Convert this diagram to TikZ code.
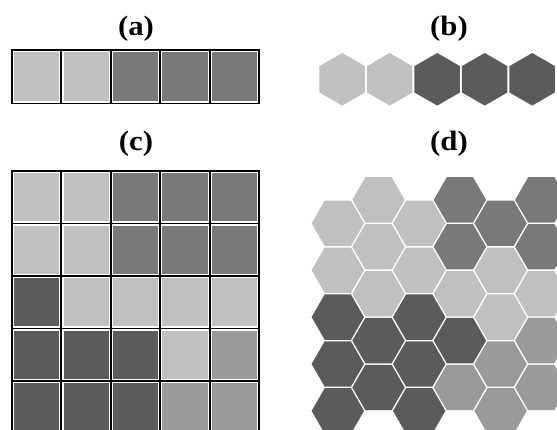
\documentclass[tikz,border=0pt]{standalone}
\usepackage{fontspec}
\newfontfamily\titlefont{Liberation Serif}[FakeStretch=1.1]
\definecolor{cL}{HTML}{C0C0C0}
\definecolor{cD}{HTML}{797979}
\definecolor{cX}{HTML}{5B5B5B}
\definecolor{cM}{HTML}{9A9A9A}
\tikzset{
  ttl/.style={anchor=base, inner sep=0pt, font=\titlefont\bfseries\fontsize{28}{30}\selectfont},
  cellfill/.style={draw=white, line width=0.9pt},
  cellline/.style={draw=black, line width=1.9pt},
}
\newcommand\sqcell[5]{%
  \filldraw[cellfill, fill=#5] ({#1+1.6},{#2+1.6}) rectangle ({#3-1.6},{#4-1.6});
  \draw[cellline] (#1,#2) rectangle (#3,#4);}
\newcommand\hexflat[3]{%
  \fill[#3, shift={(#1,#2)}] (0:26.2pt) -- (60:26.2pt) -- (120:26.2pt) -- (180:26.2pt) -- (240:26.2pt) -- (300:26.2pt) -- cycle;}
\newcommand\hexpoint[3]{%
  \fill[#3, shift={(#1,#2)}] (30:26.3pt) -- (90:26.3pt) -- (150:26.3pt) -- (210:26.3pt) -- (270:26.3pt) -- (330:26.3pt) -- cycle;}
\begin{document}
\begin{tikzpicture}[x=1pt, y=-1pt]
\useasboundingbox (0,0) rectangle (557,430);
\clip (0,0) rectangle (557,430);
% titles
\node[ttl] (ta) at (136,36) {(a)};
\node[ttl] (tb) at (449,36) {(b)};
\node[ttl] (tc) at (136,151) {(c)};
\node[ttl] (td) at (449,151) {(d)};
% (a) row of squares
\foreach \c [count=\i from 0] in {cL,cL,cD,cD,cD} {
  \sqcell{12+49.4*\i}{50}{61.4+49.4*\i}{103.5}{\c}
}
% (b) row of hexagons
\foreach \c [count=\i from 0] in {cL,cL,cX,cX,cX} {
  \hexpoint{342.2+47.5*\i}{79.3}{\c}
}
% (c) grid of squares
\foreach \row [count=\j from 0] in {{cL,cL,cD,cD,cD},{cL,cL,cD,cD,cD},{cX,cL,cL,cL,cL},{cX,cX,cX,cL,cM},{cX,cX,cX,cM,cM}} {
  \foreach \c [count=\i from 0] in \row {
    \sqcell{12+49.4*\i}{171+52.5*\j}{61.4+49.4*\i}{223.5+52.5*\j}{\c}
  }
}
% (d) hexagonal grid
\foreach \col/\ystart [count=\i from 0] in {{cL,cL,cX,cX,cX}/223.3,{cL,cL,cL,cX,cX}/199.9,{cL,cL,cX,cX,cX}/223.3,{cD,cD,cL,cX,cM}/199.9,{cD,cL,cL,cM,cM}/223.3,{cD,cD,cL,cM,cM}/199.9} {
  \foreach \c [count=\j from 0] in \col {
    \hexflat{337.8+40.7*\i}{\ystart+46.9*\j}{\c}
  }
}
\end{tikzpicture}
\end{document}
